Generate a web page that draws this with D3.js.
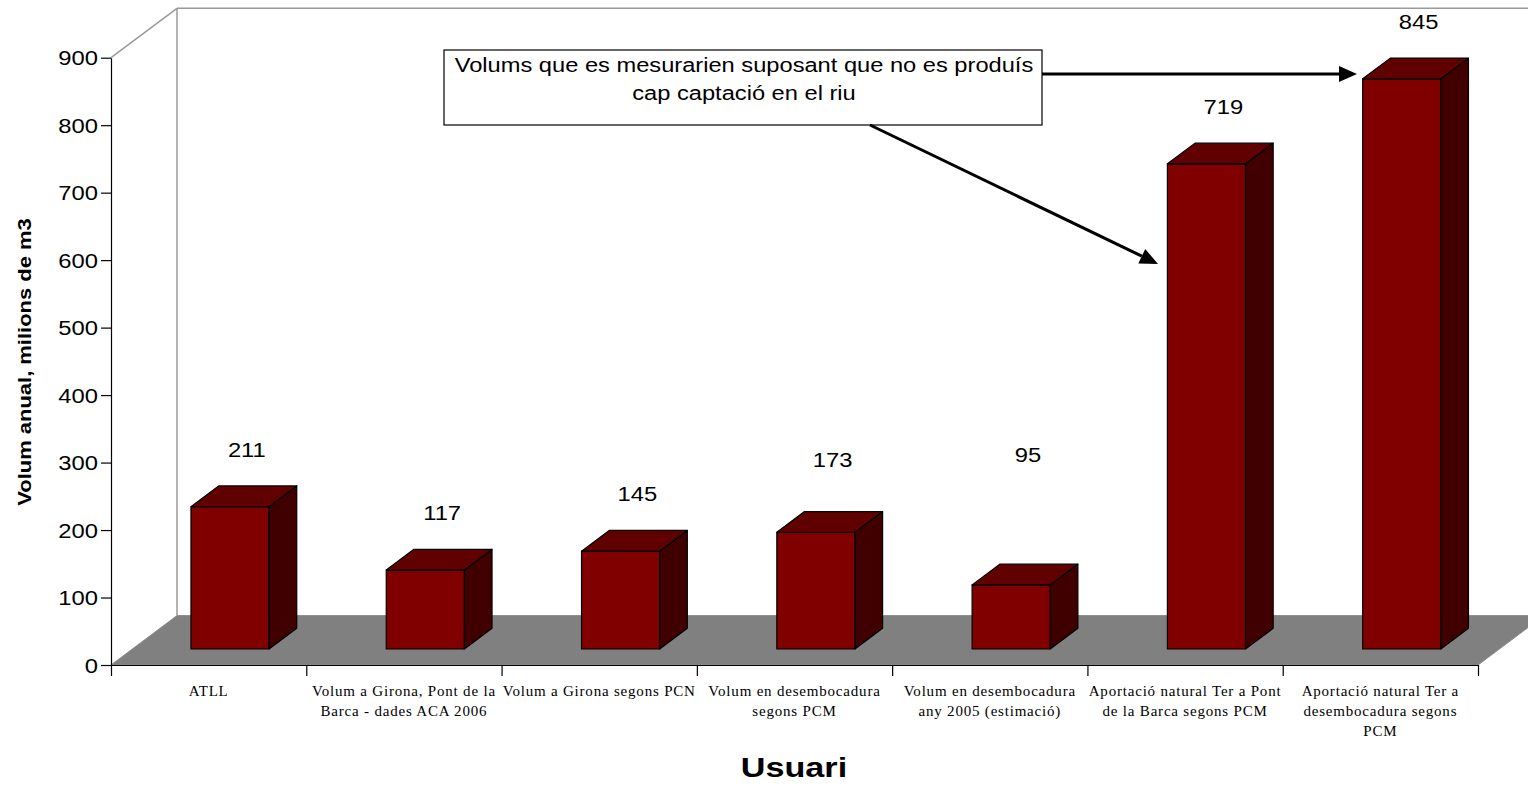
<!DOCTYPE html>
<html>
<head>
<meta charset="utf-8">
<script src="https://cdn.jsdelivr.net/npm/d3@7"></script>
<style>
  html, body { margin: 0; padding: 0; background: #ffffff; }
  svg { display: block; }
</style>
</head>
<body>
<svg id="chart" width="1528" height="786"></svg>
<script>
// ---------------- DATA ----------------
const categories = [
  "ATLL",
  "Volum a Girona, Pont de la\nBarca - dades ACA 2006",
  "Volum a Girona segons PCN",
  "Volum en desembocadura\nsegons PCM",
  "Volum en desembocadura\nany 2005 (estimació)",
  "Aportació natural Ter a Pont\nde la Barca segons PCM",
  "Aportació natural Ter a\ndesembocadura segons\nPCM"
];
const values = [211, 117, 145, 173, 95, 719, 845];
const yTicks = [0, 100, 200, 300, 400, 500, 600, 700, 800, 900];
const yTitle = "Volum anual, milions de m3";
const xTitle = "Usuari";
const noteLines = ["Volums que es mesurarien suposant que no es produís", "cap captació en el riu"];

// ---------------- LAYOUT / STYLE ----------------
const labelLift = [0, 0, 0, 16, 73, 0, 0]; // extra manual lift of the value labels
const SX = 1.22;               // horizontal widening of text
const DX = 66, DY = 49.4;      // 3D depth projection
const Z0 = 0.324, Z1 = 0.743;  // bar depth range
const left = 111, right = 1478;

const svg = d3.select("#chart");

const y = d3.scaleLinear().domain([0, 900]).range([665, 57.7]);
const x = d3.scaleBand().domain(categories).range([left, right]).paddingInner(0.6).paddingOuter(0.3);
const xEdge = d3.scaleLinear().domain([0, categories.length]).range([left, right]);

function P(px, v, z) { return [px + z * DX, y(v) - z * DY]; }
const poly = pts => pts.map(p => p.join(",")).join(" ");

// floor
svg.append("polygon")
  .attr("points", poly([P(left, 0, 0), P(left, 0, 1), P(right, 0, 1), P(right, 0, 0)]))
  .attr("fill", "#808080").attr("stroke", "#8a8a8a").attr("stroke-width", 1);

// walls
const wall = svg.append("g").attr("stroke", "#9a9a9a").attr("stroke-width", 1.5).attr("fill", "none");
wall.append("line").attr("x1", P(left, 900, 0)[0]).attr("y1", P(left, 900, 0)[1])
  .attr("x2", P(left, 900, 1)[0]).attr("y2", P(left, 900, 1)[1]);
wall.append("line").attr("x1", P(left, 0, 1)[0]).attr("y1", P(left, 0, 1)[1])
  .attr("x2", P(left, 900, 1)[0]).attr("y2", P(left, 900, 1)[1]);
wall.append("line").attr("x1", P(left, 900, 1)[0]).attr("y1", P(left, 900, 1)[1])
  .attr("x2", P(right, 900, 1)[0]).attr("y2", P(right, 900, 1)[1]);

// y axis
const yAxis = svg.append("g").attr("transform", `translate(${left},0)`)
  .call(d3.axisLeft(y).tickValues(yTicks).tickSize(10).tickSizeOuter(0).tickPadding(3));
yAxis.select(".domain").attr("stroke", "#000").attr("stroke-width", 1.2);
yAxis.selectAll(".tick line").attr("stroke", "#000").attr("stroke-width", 1.2);
yAxis.selectAll(".tick text")
  .attr("font-family", "Liberation Sans, Arial, sans-serif").attr("font-size", 19.5).attr("fill", "#000")
  .attr("dy", "0.36em")
  .each(function () {
    const t = d3.select(this);
    const xx = +t.attr("x");
    t.attr("x", null).attr("transform", `translate(${xx},0) scale(${SX},1)`);
  });

// x axis (category boundaries)
const xAxis = svg.append("g").attr("transform", `translate(0,${y(0)})`)
  .call(d3.axisBottom(xEdge).tickValues(d3.range(categories.length + 1)).tickFormat("").tickSize(11).tickSizeOuter(0));
xAxis.select(".domain").attr("stroke", "#000").attr("stroke-width", 1.2);
xAxis.selectAll(".tick line").attr("stroke", "#000").attr("stroke-width", 1.2);

// category labels
const catG = svg.append("g");
categories.forEach((c, i) => {
  const cx = x(c) + x.bandwidth() / 2;
  const t = catG.append("text")
    .attr("font-family", "Liberation Serif, Times New Roman, serif").attr("font-size", 15)
    .attr("letter-spacing", "0.8px")
    .attr("text-anchor", "middle").attr("fill", "#000")
    .attr("transform", `translate(${cx},696)`);
  c.split("\n").forEach((line, k) => {
    t.append("tspan").attr("x", 0).attr("y", k * 20).text(line);
  });
});

// bars
const bars = svg.append("g").selectAll("g").data(values).join("g");
bars.each(function (v, i) {
  const g = d3.select(this);
  const x0 = x(categories[i]), x1 = x0 + x.bandwidth();
  g.append("polygon").attr("points", poly([P(x0, 0, Z0), P(x1, 0, Z0), P(x1, v, Z0), P(x0, v, Z0)]))
    .attr("fill", "#800000").attr("stroke", "#000").attr("stroke-width", 1.2).attr("stroke-linejoin", "round");
  g.append("polygon").attr("points", poly([P(x1, 0, Z0), P(x1, 0, Z1), P(x1, v, Z1), P(x1, v, Z0)]))
    .attr("fill", "#400000").attr("stroke", "#000").attr("stroke-width", 1.2).attr("stroke-linejoin", "round");
  g.append("polygon").attr("points", poly([P(x0, v, Z0), P(x1, v, Z0), P(x1, v, Z1), P(x0, v, Z1)]))
    .attr("fill", "#600000").attr("stroke", "#000").attr("stroke-width", 1.2).attr("stroke-linejoin", "round");
});

// value labels
const valG = svg.append("g");
values.forEach((v, i) => {
  const x0 = x(categories[i]);
  const p = P(x0 + x.bandwidth() / 2, v, (Z0 + Z1) / 2);
  const top = P(x0, v, Z1)[1];
  valG.append("text")
    .attr("font-family", "Liberation Sans, Arial, sans-serif").attr("font-size", 19.5).attr("fill", "#000")
    .attr("text-anchor", "middle")
    .attr("transform", `translate(${p[0] + 3},${top - 29 - labelLift[i]}) scale(${SX},1)`)
    .text(v);
});

// axis titles
svg.append("text")
  .attr("font-family", "Liberation Sans, Arial, sans-serif").attr("font-size", 18).attr("font-weight", "bold")
  .attr("text-anchor", "middle").attr("fill", "#000")
  .attr("transform", `translate(31,362) rotate(-90) scale(${SX},1)`)
  .text(yTitle);
svg.append("text")
  .attr("font-family", "Liberation Sans, Arial, sans-serif").attr("font-size", 28).attr("font-weight", "bold")
  .attr("text-anchor", "middle").attr("fill", "#000")
  .attr("transform", `translate(794,777) scale(${SX},1)`)
  .text(xTitle);

// annotation
const note = svg.append("g");
note.append("rect").attr("x", 444).attr("y", 50).attr("width", 598).attr("height", 75)
  .attr("fill", "#fff").attr("stroke", "#000").attr("stroke-width", 1.2);
noteLines.forEach((l, k) => {
  note.append("text")
    .attr("font-family", "Liberation Sans, Arial, sans-serif").attr("font-size", 19.4).attr("fill", "#000")
    .attr("text-anchor", "middle")
    .attr("transform", `translate(744,${72 + k * 28}) scale(${SX},1)`)
    .text(l);
});

function arrow(x1, y1, x2, y2) {
  const a = Math.atan2(y2 - y1, x2 - x1), L = 18, W = 8;
  const bx = x2 - L * Math.cos(a), by = y2 - L * Math.sin(a);
  note.append("line").attr("x1", x1).attr("y1", y1).attr("x2", bx).attr("y2", by)
    .attr("stroke", "#000").attr("stroke-width", 3);
  note.append("polygon").attr("points", poly([
    [x2, y2],
    [bx + W * Math.sin(a), by - W * Math.cos(a)],
    [bx - W * Math.sin(a), by + W * Math.cos(a)]
  ])).attr("fill", "#000");
}
arrow(1042, 74, 1357, 74);
arrow(870, 125, 1158, 264);
</script>
</body>
</html>
